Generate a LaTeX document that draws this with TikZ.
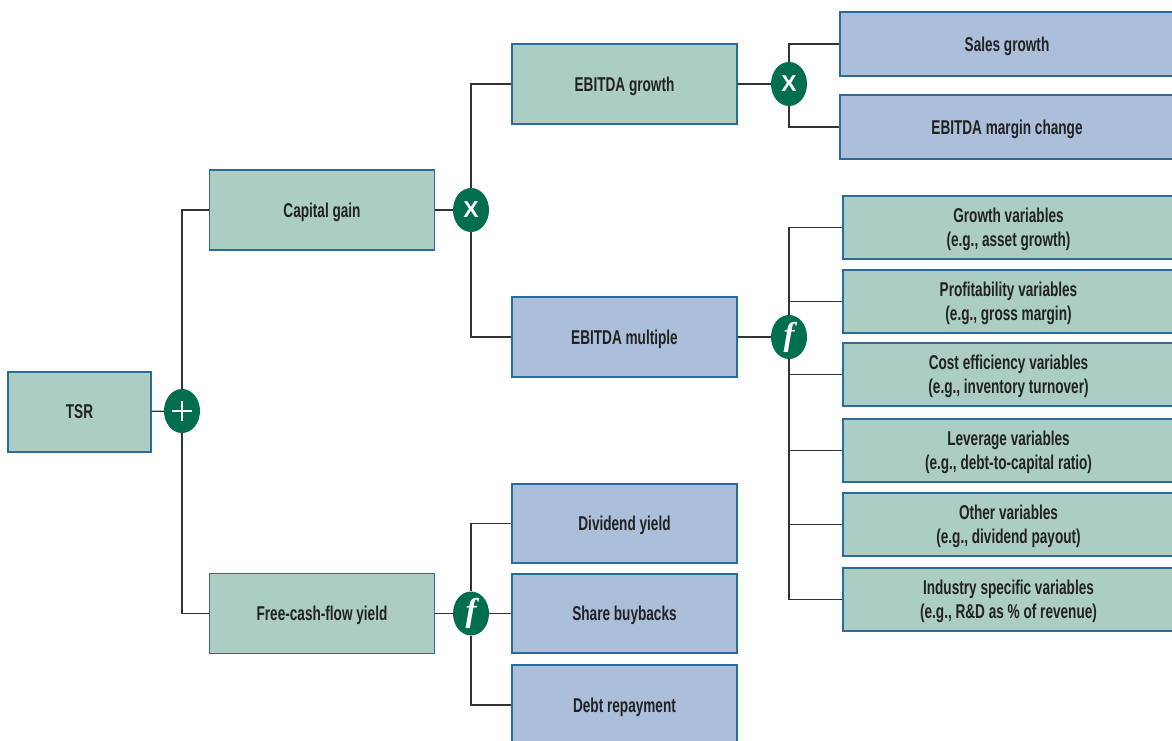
\documentclass[tikz,border=0pt]{standalone}
\usepackage{fontspec}
\setmainfont{Liberation Sans}[FakeStretch=0.68]
\newfontfamily\opfont{Liberation Serif}
\newfontfamily\xfont{Liberation Sans}
\usetikzlibrary{shapes.geometric}
\definecolor{gfill}{HTML}{ABCDC4}
\definecolor{bfill}{HTML}{ABBFDB}
\definecolor{boxline}{HTML}{2B6C9C}
\definecolor{opc}{HTML}{006E4F}
\definecolor{wirec}{HTML}{333333}
\definecolor{txt}{HTML}{222222}
\begin{document}
\begin{tikzpicture}[x=1pt,y=-1pt,
  box/.style={draw=boxline, line width=1.3pt, align=center, inner sep=0pt,
    text depth=0pt, text=txt, font=\bfseries\fontsize{20}{24}\selectfont},
  gbox/.style={box, fill=gfill},
  bbox/.style={box, fill=bfill},
  mid/.style={minimum width=225pt, minimum height=80pt},
  side/.style={minimum width=331pt, minimum height=63pt},
  op/.style={ellipse, fill=opc, minimum width=36pt, minimum height=44pt,
    inner sep=0pt, text=white},
  xop/.style={op, font=\xfont\bfseries\fontsize{23}{23}\selectfont},
  fop/.style={op, font=\opfont\bfseries\itshape\fontsize{33}{33}\selectfont},
  wire/.style={draw=wirec, line width=1.2pt}]
\useasboundingbox (0,0) rectangle (1172,741);
\clip (0,0) rectangle (1172,741);
\fill[white] (0,0) rectangle (1172,741);

% left column
\node[gbox, minimum width=143pt, minimum height=80pt] (tsr) at (79.5,412) {TSR};
\node[op] (plus) at (182,411) {};
\node[gbox, mid] (cap) at (322,210) {Capital gain};
\node[gbox, mid] (fcf) at (322,613.5) {Free-cash-flow yield};

% middle column
\node[xop] (x1) at (471,210) {X};
\node[gbox, mid] (ebg) at (624.5,84) {EBITDA growth};
\node[bbox, mid] (ebm) at (624.5,337) {EBITDA multiple};
\node[fop] (f2) at (471,613.5) {\raisebox{-2pt}{f}};
\node[bbox, mid, minimum height=79pt] (div) at (624.5,523.5) {Dividend yield};
\node[bbox, mid, minimum height=79pt] (share) at (624.5,613.5) {Share buybacks};
\node[bbox, mid] (debt) at (624.5,705) {Debt repayment};

% right column
\node[xop] (x2) at (789,84) {X};
\node[bbox, minimum width=334pt, minimum height=64pt] (sales) at (1007,44) {Sales growth};
\node[bbox, minimum width=334pt, minimum height=64pt] (margin) at (1007,127) {EBITDA margin change};
\node[fop] (f1) at (789,337) {\raisebox{-2pt}{f}};
\node[gbox, side] (v1) at (1008.5,227.5) {Growth variables\\(e.g., asset growth)};
\node[gbox, side] (v2) at (1008.5,301.5) {Profitability variables\\(e.g., gross margin)};
\node[gbox, side] (v3) at (1008.5,374.5) {Cost efficiency variables\\(e.g., inventory turnover)};
\node[gbox, side] (v4) at (1008.5,450.5) {Leverage variables\\(e.g., debt-to-capital ratio)};
\node[gbox, side] (v5) at (1008.5,524.5) {Other variables\\(e.g., dividend payout)};
\node[gbox, side] (v6) at (1008.5,599.5) {Industry specific variables\\(e.g., R\&D as \% of revenue)};

% plus sign
\draw[white, line width=2.6pt] ([xshift=-10pt]plus.center) -- ([xshift=10pt]plus.center);
\draw[white, line width=2.6pt] ([yshift=-10pt]plus.center) -- ([yshift=10pt]plus.center);

% connectors
\draw[wire] (tsr) -- (plus);
\draw[wire] (cap.west) -| (plus);
\draw[wire] (fcf.west) -| (plus);
\draw[wire] (cap) -- (x1);
\draw[wire] (ebg.west) -| (x1);
\draw[wire] (ebm.west) -| (x1);
\draw[wire] (fcf) -- (f2);
\draw[wire] (div.west) -| (f2);
\draw[wire] (share) -- (f2);
\draw[wire] (debt.west) -| (f2);
\draw[wire] (ebg) -- (x2);
\draw[wire] (sales.west) -| (x2);
\draw[wire] (margin.west) -| (x2);
\draw[wire] (ebm) -- (f1);
\foreach \v in {v1,v2,v3,v4,v5,v6} {\draw[wire] (\v.west) -| (f1);}
\end{tikzpicture}
\end{document}
